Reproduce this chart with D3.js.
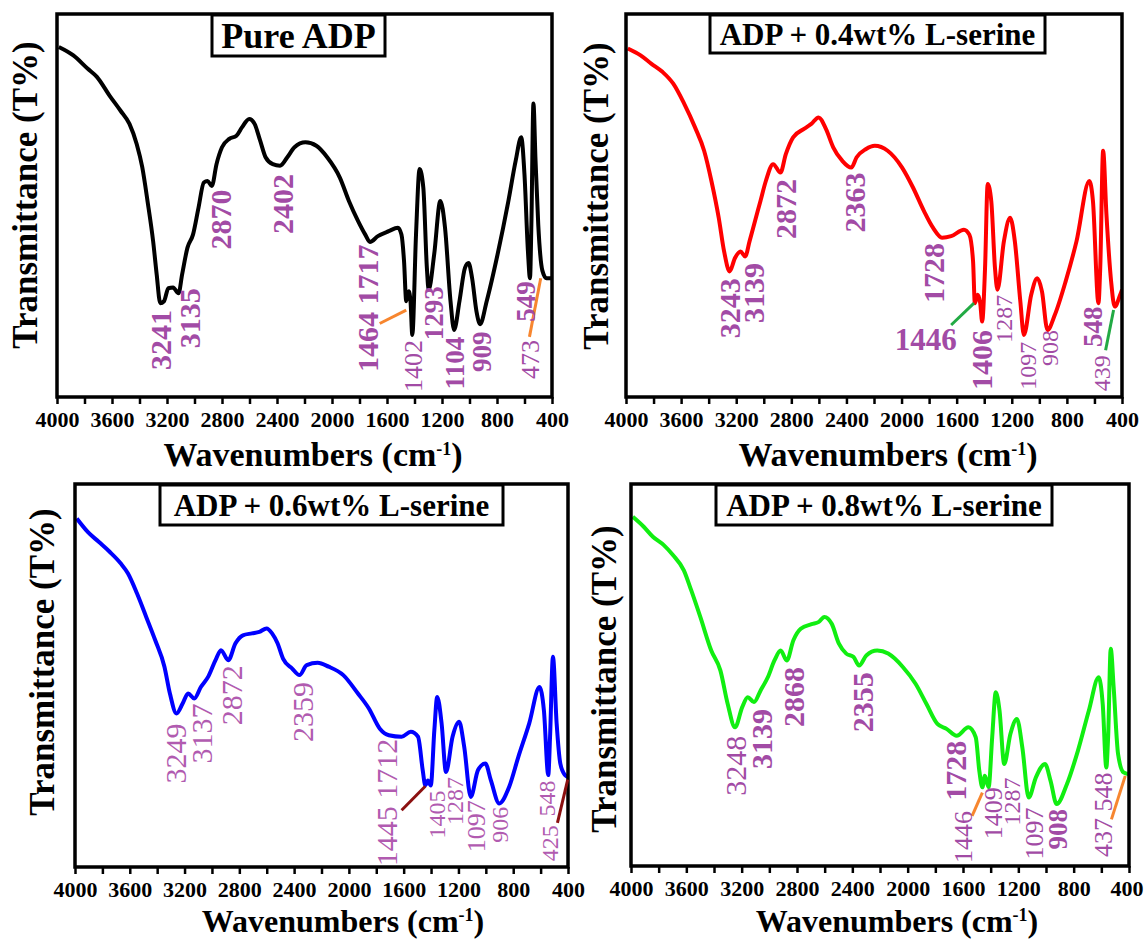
<!DOCTYPE html>
<html>
<head>
<meta charset="utf-8">
<script src="https://cdn.jsdelivr.net/npm/d3@7"></script>
<style>
  body { margin: 0; background: #fff; }
  svg { display: block; }
  text { font-family: "Liberation Serif", "Times New Roman", serif; }
</style>
</head>
<body>
<svg width="1145" height="940"></svg>
<script>
const tickLabels = [4000, 3600, 3200, 2800, 2400, 2000, 1600, 1200, 800, 400];
const tickMarks = [4000, 3800, 3600, 3400, 3200, 3000, 2800, 2600, 2400, 2200, 2000,
    1800, 1600, 1400, 1200, 1000, 800, 600, 400];
const titles = ["Pure ADP", "ADP + 0.4wt% L-serine", "ADP + 0.6wt% L-serine", "ADP + 0.8wt% L-serine"];

// [wavenumber, transmittance]
const pureADP = [[3987,91.4],[3881,89.2],[3776,85.7],[3710,83.6],[3618,78.7],[3539,74.8],[3473,71.3],
    [3420,66],[3380,60],[3341,51],[3301,40.7],[3275,32],[3249,24.5],[3222,25],[3190,28.4],[3156,28.6],
    [3116,27.1],[3090,32],[3051,39],[3011,42.4],[2971,49.4],[2932,56],[2905,56.4],[2874,55.1],[2840,60.8],
    [2800,65.2],[2747,67.4],[2695,68.2],[2655,70.4],[2602,72.6],[2563,71.3],[2523,67],[2483,62.6],
    [2431,60.8],[2378,60.4],[2325,62.6],[2273,65.2],[2193,66.5],[2114,65.6],[2035,62.6],[1943,57.3],
    [1877,51.2],[1811,46],[1758,42.4],[1724,40.5],[1666,42],[1587,43.3],[1521,44.2],[1495,42.4],
    [1476,35.4],[1460,25],[1442,27.6],[1429,25],[1416,16.2],[1389,42.4],[1363,59.5],[1336,54.7],
    [1310,33.7],[1297,28],[1257,37.2],[1212,51.2],[1178,44.2],[1138,25],[1112,17.5],[1073,25],
    [1033,33.7],[1007,35],[981,31],[949,22.3],[923,19],[875,25],[796,37.2],[717,51.2],[664,61.7],
    [624,67.8],[600,58],[575,38],[560,31],[550,45],[535,76.6],[520,62],[500,45],[470,33],[440,31],[400,31]];

const serine04 = [[3987,91],[3894,89.2],[3815,87],[3736,84.9],[3657,81.8],[3578,76.6],[3499,70.4],
    [3433,64.3],[3380,56.4],[3327,46.8],[3288,38],[3248,32.8],[3209,36.3],[3169,38],[3135,36.7],
    [3103,40.7],[3064,45.9],[3024,51.2],[2985,56.4],[2932,60.8],[2879,58.6],[2840,63.4],[2787,67.8],
    [2708,70],[2655,71.3],[2602,73],[2549,70],[2496,65.2],[2431,61.7],[2365,59.9],[2326,62.6],
    [2260,64.7],[2194,65.6],[2101,64.3],[1996,59.9],[1917,54.7],[1838,48.6],[1772,44.2],[1706,41.6],
    [1640,42],[1547,43.7],[1508,42.4],[1481,35.4],[1468,24.5],[1447,26.7],[1429,24.5],[1415,19.7],
    [1394,33.7],[1375,55.6],[1349,51.2],[1322,33.7],[1304,28],[1257,40.7],[1212,46.8],[1178,40.7],
    [1138,25],[1112,16.2],[1059,26.7],[1015,31],[981,27.6],[941,17.5],[888,21.4],[809,30.2],[730,40.7],
    [637,56.4],[611,51.2],[571,24.5],[558,33.7],[537,64.3],[513,47.7],[479,30.2],[453,23.6],[413,26.7],[400,28]];

const serine06 = [[3987,91],[3907,87.5],[3827,84.9],[3747,82.3],[3667,79.3],[3614,76.7],[3547,71.4],
    [3480,65.3],[3414,59.2],[3347,52.3],[3307,45.3],[3259,40.1],[3214,42.7],[3174,45.3],[3129,44],
    [3081,47],[3027,49.7],[2974,54],[2934,56.6],[2881,54],[2828,58.4],[2774,60.5],[2708,61],[2654,61.4],
    [2601,62.3],[2561,61],[2521,58.4],[2481,54.4],[2414,51.8],[2361,50.1],[2308,52.7],[2228,53.3],
    [2148,52.3],[2041,50.1],[1934,45.3],[1854,41.4],[1774,36.1],[1708,34.4],[1615,34],[1548,35.3],
    [1495,34],[1461,25.3],[1442,21.3],[1423,22.6],[1402,21.3],[1376,35.7],[1355,44.4],[1323,37.5],
    [1291,24.8],[1243,34],[1195,37.9],[1158,31.4],[1110,18.3],[1057,25.3],[1003,27],[963,22.6],
    [902,16.6],[830,20.9],[763,28.7],[683,37.5],[608,47],[576,40.9],[544,24],[531,34],[510,54.9],
    [483,37.5],[456,27],[422,24],[400,23.5]];

const serine08 = [[3987,91.4],[3908,88.8],[3842,86.2],[3763,84],[3697,81.4],[3618,77.4],[3565,72.2],
    [3499,65.2],[3420,56.4],[3354,51.2],[3301,42.4],[3248,36.3],[3196,41.6],[3156,44.2],[3111,42.9],
    [3064,45.9],[3011,49.4],[2963,53.8],[2918,56.4],[2874,53.8],[2826,59.1],[2773,62.1],[2695,63.3],
    [2642,63.9],[2602,65.2],[2549,63.4],[2497,58.2],[2444,55.6],[2391,54.7],[2351,52.5],[2299,55.1],
    [2220,56.4],[2141,55.6],[2035,52.1],[1943,47.7],[1864,42.4],[1785,37.2],[1719,35.9],[1646,34.1],
    [1561,36.3],[1508,33.7],[1482,24.9],[1460,20.6],[1442,23.6],[1415,20.6],[1389,33.7],[1363,45.5],
    [1336,40.7],[1302,26.7],[1257,34.6],[1210,38.5],[1171,31],[1125,17.9],[1073,23.2],[1007,26.7],
    [967,22.3],[923,16.2],[849,21.4],[769,30.2],[690,40.7],[619,49.4],[590,42.4],[564,25.8],[551,33.7],
    [532,56.9],[511,46.8],[479,29.3],[440,24.5],[400,24]];

// peak labels: [text, wavenumber, transmittance at the top end of the text]
const pureLabels = [["3241",3248,22.7],["3135",3037,28.4],["2870",2813,54.2],["2402",2357,58.2],
    ["1464 1717",1745,39.8],["1402",1415,14.9],["1293",1265,28.9],["1104",1112,15.7],["909",914,17.1],
    ["549",590,30.2],["473",558,14.9]];
const serine04Labels = [["3243",3248,31],["3139",3072,35],["2872",2845,56.9],["2363",2338,58.6],
    ["1728",1771,40.2],["1446",1600,12.2],["1406",1421,17.5],["1287",1257,26.7],["1097",1086,14.4],
    ["908",928,17.5],["548",611,23.6],["439",545,10.9]];
const serine06Labels = [["3249",3267,37.5],["3137",3073,42.7],["2872",2854,52.7],["2359",2340,48.3],
    ["1445 1712",1727,33.5],["1405",1362,20],["1287",1229,23.5],["1097",1069,17.4],["906",896,15.7],
    ["548",557,22.6],["425",536,10.9]];
const serine08Labels = [["3248",3248,34.1],["3139",3058,41.1],["2868",2826,52.1],["2355",2325,50.7],
    ["1728",1653,32.8],["1446",1600,14.4],["1409",1384,20.6],["1287",1249,23.2],["1097",1086,15.3],
    ["908",914,14.9],["437 548",590,24.5]];

// leader lines: [wn1, T1, wn2, T2]
const pureLeaders = [[1653,19.2,1460,22.7],[564,15.7,482,31]];
const serine04Leaders = [[1640,18.8,1474,24.5],[519,12.2,461,22.7]];
const serine06Leaders = [[1615,14.8,1442,21.1],[477,11.5,402,22.8]];
const serine08Leaders = [[1534,13.1,1460,19.2],[527,12.2,427,23.6]];

// label styles: B big bold, b bold, R big regular, r regular, s small regular, H horizontal bold
const styleMap = {
    B: {size: 30, weight: "bold"}, b: {size: 27, weight: "bold"},
    R: {size: 30, weight: "normal"}, r: {size: 26, weight: "normal"},
    s: {size: 24, weight: "normal"}, H: {size: 31, weight: "bold"}
};

const panels = [
    {left: 57, top: 14, right: 552, bottom: 397, data: pureADP, color: "#000000",
     title: titles[0], box: [212, 15, 385, 56], titleSize: 36,
     labels: pureLabels, styles: "BBBBBrbbbbr", labelColor: "#a24ba5",
     leaders: pureLeaders, leaderColor: "#f7862f",
     yTitle: [37, 195], xTitle: [313, 466], xTitleSize: 34},
    {left: 626, top: 14, right: 1122, bottom: 397, data: serine04, color: "#ff0000",
     title: titles[1], box: [710, 15, 1045, 53], titleSize: 31,
     labels: serine04Labels, styles: "BBBBBHBsssbs", labelColor: "#a24ba5",
     leaders: serine04Leaders, leaderColor: "#22aa44",
     yTitle: [608, 196], xTitle: [888, 466], xTitleSize: 34},
    {left: 75, top: 484, right: 568, bottom: 867, data: serine06, color: "#0000ff",
     title: titles[2], box: [160, 485, 503, 525], titleSize: 31,
     labels: serine06Labels, styles: "RRRRRssrsss", labelColor: "#b15bb0",
     leaders: serine06Leaders, leaderColor: "#8b1010",
     yTitle: [54, 662], xTitle: [343, 932], xTitleSize: 32},
    {left: 631, top: 484, right: 1129, bottom: 866, data: serine08, color: "#11ee11",
     title: titles[3], box: [716, 485, 1052, 525], titleSize: 31,
     labels: serine08Labels, styles: "RBBBBrrsrbr", labelColor: "#a24ba5",
     leaders: serine08Leaders, leaderColor: "#f7862f",
     yTitle: [616, 679], xTitle: [897, 932], xTitleSize: 32}
];

const svg = d3.select("svg");
svg.append("rect").attr("width", 1145).attr("height", 940).attr("fill", "#fff");

panels.forEach((p, i) => {
    const x = d3.scaleLinear().domain([4000, 400]).range([p.left, p.right]);
    const y = d3.scaleLinear().domain([0, 100]).range([p.bottom, p.top]);
    const g = svg.append("g");

    g.append("clipPath").attr("id", "clip" + i)
        .append("rect")
        .attr("x", p.left).attr("y", p.top)
        .attr("width", p.right - p.left).attr("height", p.bottom - p.top);

    // axis ticks
    g.append("g")
        .attr("transform", `translate(0,${p.bottom})`)
        .call(d3.axisBottom(x).tickValues(tickMarks).tickSize(7).tickPadding(7)
            .tickFormat(d => tickLabels.includes(d) ? d : ""))
        .call(a => a.select(".domain").remove())
        .call(a => a.selectAll(".tick line").attr("stroke", "#000").attr("stroke-width", 2.5))
        .call(a => a.selectAll(".tick text")
            .attr("fill", "#000")
            .style("font-family", '"Liberation Serif", "Times New Roman", serif')
            .style("font-weight", "bold")
            .style("font-size", "22px"))
        // keep the last label inside the page
        .call(a => a.selectAll(".tick text")
            .filter(d => d === 400 && x(400) + 18 > 1145)
            .attr("text-anchor", "end").attr("x", 1143 - x(400)));

    // spectrum
    const line = d3.line()
        .x(d => x(d[0]))
        .y(d => y(d[1]))
        .curve(d3.curveMonotoneX);

    g.append("path")
        .datum(p.data)
        .attr("clip-path", `url(#clip${i})`)
        .attr("fill", "none")
        .attr("stroke", p.color)
        .attr("stroke-width", 4)
        .attr("stroke-linejoin", "round")
        .attr("d", line);

    // frame
    g.append("rect")
        .attr("x", p.left).attr("y", p.top)
        .attr("width", p.right - p.left).attr("height", p.bottom - p.top)
        .attr("fill", "none").attr("stroke", "#000").attr("stroke-width", 3.5);

    // leaders
    g.selectAll(".leader")
        .data(p.leaders)
        .join("line")
        .attr("x1", d => x(d[0])).attr("y1", d => y(d[1]))
        .attr("x2", d => x(d[2])).attr("y2", d => y(d[3]))
        .attr("stroke", p.leaderColor)
        .attr("stroke-width", 3);

    // peak labels
    p.labels.forEach((l, k) => {
        const st = styleMap[p.styles[k]];
        const t = g.append("text")
            .attr("fill", p.labelColor)
            .style("font-size", st.size + "px")
            .style("font-weight", st.weight)
            .text(l[0]);
        if (p.styles[k] === "H") {
            t.attr("x", x(l[1])).attr("y", y(l[2])).attr("text-anchor", "end");
        } else {
            t.attr("transform", `translate(${x(l[1])},${y(l[2])}) rotate(-90)`)
                .attr("text-anchor", "end")
                .attr("dy", "0.35em");
        }
    });

    // title box
    const [bx0, by0, bx1, by1] = p.box;
    g.append("rect")
        .attr("x", bx0).attr("y", by0)
        .attr("width", bx1 - bx0).attr("height", by1 - by0)
        .attr("fill", "#fff").attr("stroke", "#000").attr("stroke-width", 3);
    g.append("text")
        .attr("x", (bx0 + bx1) / 2)
        .attr("y", (by0 + by1) / 2)
        .attr("dy", "0.34em")
        .attr("text-anchor", "middle")
        .style("font-size", p.titleSize + "px")
        .style("font-weight", "bold")
        .text(p.title);

    // y title
    g.append("text")
        .attr("transform", `translate(${p.yTitle[0]},${p.yTitle[1]}) rotate(-90)`)
        .attr("text-anchor", "middle")
        .style("font-size", "35px")
        .style("font-weight", "bold")
        .text("Transmittance (T%)");

    // x title
    const xt = g.append("text")
        .attr("x", p.xTitle[0]).attr("y", p.xTitle[1])
        .attr("text-anchor", "middle")
        .style("font-size", p.xTitleSize + "px")
        .style("font-weight", "bold");
    xt.append("tspan").text("Wavenumbers (cm");
    xt.append("tspan").attr("dy", -11).style("font-size", "18px").text("-1");
    xt.append("tspan").attr("dy", 11).text(")");
});
</script>
</body>
</html>
